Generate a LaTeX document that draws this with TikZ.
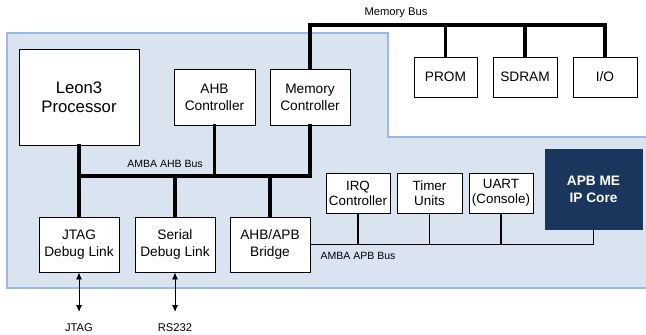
\documentclass[tikz,border=0pt]{standalone}
\usepackage{fontspec}
\setmainfont{Liberation Sans}
\usetikzlibrary{arrows.meta}
\definecolor{bgfill}{HTML}{DAE3F0}
\definecolor{bgline}{HTML}{9BB9E6}
\definecolor{navy}{HTML}{1B365D}
\tikzset{
  blk/.style={draw=black, fill=white, line width=0.9pt, align=center, inner sep=0pt,
    font=\fontsize{13.7}{17}\selectfont},
  sblk/.style={blk, font=\fontsize{13.4}{15}\selectfont},
  bus/.style={line width=3.2pt, line cap=rect},
  apb/.style={line width=1.4pt},
  lbl/.style={font=\fontsize{10.5}{12}\selectfont, inner sep=0pt},
  xlbl/.style={font=\fontsize{11.2}{12}\selectfont, inner sep=0pt},
  io/.style={line width=0.9pt, {Latex[length=7pt,width=6pt]}-{Latex[length=7pt,width=6pt]}}
}
\begin{document}
\begin{tikzpicture}[x=1pt,y=-1pt]
\useasboundingbox (0,0) rectangle (646,335);
\begin{scope}
\clip (0,0) rectangle (646,335);
\fill[bgfill] (7,33) -- (388,33) -- (388,137) -- (660,137) -- (660,288) -- (7,288) -- cycle;
\draw[bgline, line width=1.2pt] (660,137) -- (388,137) -- (388,33) -- (7,33) -- (7,288) -- (660,288);
\end{scope}

% nodes
\node[blk, minimum width=120pt, minimum height=96pt, font=\fontsize{16.7}{19.5}\selectfont] (leon) at (79,97) {Leon3\\Processor};
\node[blk, minimum width=81pt, minimum height=56pt] (ahbc) at (214.5,97) {AHB\\Controller};
\node[blk, minimum width=80pt, minimum height=56pt] (memc) at (310,97) {Memory\\Controller};
\node[blk, minimum width=63pt, minimum height=40pt] (prom) at (445.5,77) {PROM};
\node[blk, minimum width=64pt, minimum height=40pt] (sdram) at (525,77) {SDRAM};
\node[blk, minimum width=64pt, minimum height=40pt] (iom) at (605,77) {I/O};
\node[blk, minimum width=80pt, minimum height=55pt] (jtag) at (79,244.5) {JTAG\\Debug Link};
\node[blk, minimum width=80pt, minimum height=55pt] (serial) at (175,244.5) {Serial\\Debug Link};
\node[blk, minimum width=80pt, minimum height=55pt] (bridge) at (270,244.5) {AHB/APB\\Bridge};
\node[sblk, minimum width=64pt, minimum height=40pt] (irq) at (358,193) {IRQ\\Controller};
\node[sblk, minimum width=65pt, minimum height=40pt] (timer) at (429.5,193) {Timer\\Units};
\node[sblk, minimum width=64pt, minimum height=40pt] (uart) at (501,193) {UART\\(Console)};
\node[draw=navy, fill=navy, text=white, align=center, inner sep=0pt, minimum width=97pt, minimum height=80pt,
  font=\fontsize{13.7}{17}\selectfont\bfseries] (apbme) at (593.5,189) {APB ME\\IP Core};

% free ends
\coordinate (mb) at (0,25);
\coordinate (ahb) at (0,176);
\coordinate (jend) at (79,312);
\coordinate (send) at (175,312);

% memory bus
\draw[bus] (memc.north) |- (mb -| iom.north) -- (iom.north);
\draw[bus] (prom.north) -- (prom.north |- mb);
\draw[bus] (sdram.north) -- (sdram.north |- mb);

% AHB bus
\draw[bus] (leon.south) -- (jtag.north);
\draw[bus] (ahb -| leon.south) -- (ahb -| memc.south);
\draw[bus] (ahbc.south) -- (ahbc.south |- ahb);
\draw[bus] (memc.south) -- (memc.south |- ahb);
\draw[bus] (serial.north) -- (serial.north |- ahb);
\draw[bus] (bridge.north) -- (bridge.north |- ahb);

% APB bus
\draw[apb] (bridge.east) -| (apbme.south);
\draw[apb] (irq.south) -- (irq.south |- bridge.east);
\draw[apb] (timer.south) -- (timer.south |- bridge.east);
\draw[apb] (uart.south) -- (uart.south |- bridge.east);

% external links
\draw[io] (jtag.south) -- (jend);
\draw[io] (serial.south) -- (send);

% labels
\node[xlbl] (lmb) at (396,13) {Memory Bus};
\node[lbl] (lahb) at (165,164) {AMBA AHB Bus};
\node[lbl] (lapb) at (358,256) {AMBA APB Bus};
\node[xlbl] (ljtag) at (79,328) {JTAG};
\node[xlbl] (lrs) at (175,328) {RS232};
\end{tikzpicture}
\end{document}
